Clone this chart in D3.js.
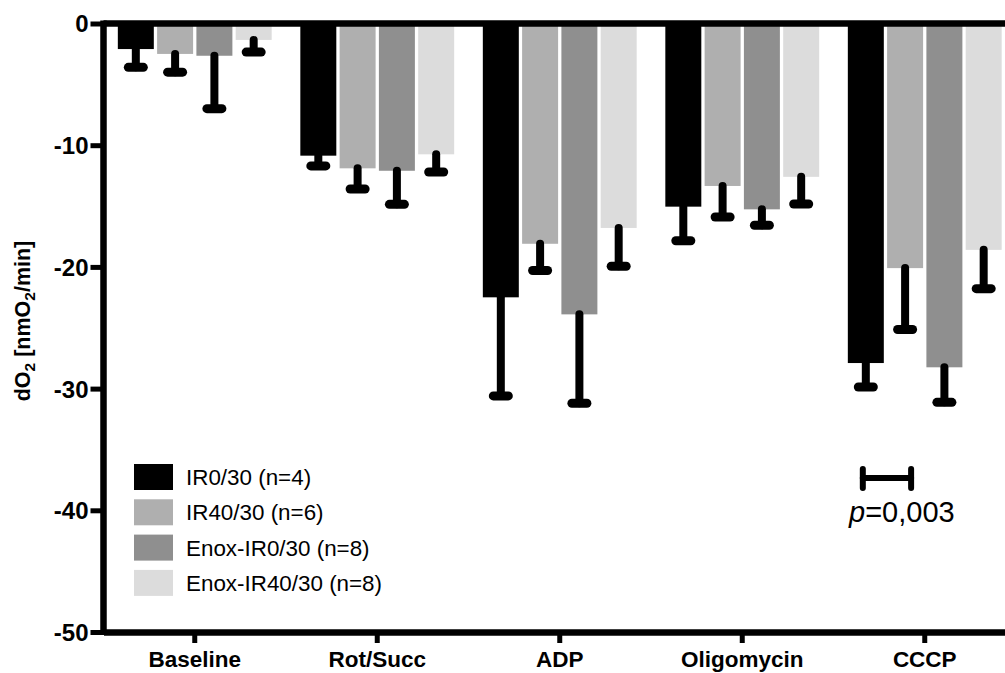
<!DOCTYPE html>
<html>
<head>
<meta charset="utf-8">
<script src="https://cdn.jsdelivr.net/npm/d3@7"></script>
<style>
  html, body { margin: 0; padding: 0; background: #fff; }
  svg { display: block; }
  text { font-family: "Liberation Sans", Arial, Helvetica, sans-serif; }
</style>
</head>
<body>
<svg id="chart" width="1005" height="673"></svg>
<script>
// ---- data ----
const categories = ["Baseline", "Rot/Succ", "ADP", "Oligomycin", "CCCP"];
const seriesNames = ["IR0/30 (n=4)", "IR40/30 (n=6)", "Enox-IR0/30 (n=8)", "Enox-IR40/30 (n=8)"];
const meanIR0 = [-2.1, -10.86, -22.5, -15.05, -27.9];
const meanIR40 = [-2.5, -11.9, -18.1, -13.35, -20.1];
const meanEnoxIR0 = [-2.65, -12.1, -23.9, -15.27, -28.25];
const meanEnoxIR40 = [-1.35, -10.75, -16.8, -12.6, -18.6];
const errIR0 = [1.5, 0.84, 8.1, 2.8, 1.97];
const errIR40 = [1.5, 1.7, 2.2, 2.55, 5.04];
const errEnoxIR0 = [4.35, 2.76, 7.3, 1.31, 2.88];
const errEnoxIR40 = [1.0, 1.45, 3.15, 2.23, 3.19];
const yTicks = [0, -10, -20, -30, -40, -50];
const colors = ["#000000", "#afafaf", "#8f8f8f", "#dcdcdc"];

const means = [meanIR0, meanIR40, meanEnoxIR0, meanEnoxIR40];
const errs = [errIR0, errIR40, errEnoxIR0, errEnoxIR40];

const svg = d3.select("#chart");

const y = d3.scaleLinear().domain([0, -50]).range([23.5, 632]);
const x0 = d3.scaleBand().domain(categories).range([103.5, 1016]).paddingInner(0.157).paddingOuter(0.0785);
const x1 = d3.scaleBand().domain(d3.range(seriesNames.length)).range([0, x0.bandwidth()]).paddingInner(0.084).paddingOuter(0);

const rows = [];
categories.forEach((c, ci) => {
  seriesNames.forEach((s, si) => {
    rows.push({ c, si, v: means[si][ci], e: errs[si][ci] });
  });
});

// bars
svg.append("g").selectAll("rect").data(rows).join("rect")
  .attr("x", d => x0(d.c) + x1(d.si))
  .attr("width", x1.bandwidth())
  .attr("y", y(0))
  .attr("height", d => y(d.v) - y(0))
  .attr("fill", d => colors[d.si]);

// error bars
const eg = svg.append("g").attr("stroke", "#000").attr("stroke-linecap", "round");
eg.selectAll("line.stem").data(rows).join("line").attr("class", "stem")
  .attr("x1", d => x0(d.c) + x1(d.si) + x1.bandwidth() / 2)
  .attr("x2", d => x0(d.c) + x1(d.si) + x1.bandwidth() / 2)
  .attr("y1", d => y(d.v))
  .attr("y2", d => y(d.v - d.e))
  .attr("stroke-width", 8);
eg.selectAll("line.cap").data(rows).join("line").attr("class", "cap")
  .attr("x1", d => x0(d.c) + x1(d.si) + x1.bandwidth() / 2 - 7.5)
  .attr("x2", d => x0(d.c) + x1(d.si) + x1.bandwidth() / 2 + 7.5)
  .attr("y1", d => y(d.v - d.e))
  .attr("y2", d => y(d.v - d.e))
  .attr("stroke-width", 9);

// top zero line
svg.append("line")
  .attr("x1", x0.range()[0]).attr("x2", x0.range()[1])
  .attr("y1", y(0)).attr("y2", y(0))
  .attr("stroke", "#000").attr("stroke-width", 6.5);

// y axis
const yAxis = svg.append("g").attr("transform", "translate(103.5,0)")
  .call(d3.axisLeft(y).tickValues(yTicks).tickSize(13).tickSizeOuter(0).tickPadding(2)
    .tickFormat(d => d === 0 ? "0" : "-" + Math.abs(d)));
yAxis.select(".domain").remove();
yAxis.selectAll(".tick line").attr("stroke", "#000").attr("stroke-width", 5);
yAxis.selectAll(".tick text").attr("font-size", 24).attr("font-weight", "bold").attr("fill", "#000")
  .attr("font-family", "'Liberation Sans', Arial, sans-serif").attr("dy", "0.35em");
svg.append("line")
  .attr("x1", 103.5).attr("x2", 103.5)
  .attr("y1", y(0) - 3).attr("y2", y(-50) + 3)
  .attr("stroke", "#000").attr("stroke-width", 6.5);

// x axis (bottom)
const xAxis = svg.append("g").attr("transform", `translate(0,${y(-50)})`)
  .call(d3.axisBottom(x0).tickSize(11).tickSizeOuter(0).tickPadding(8));
xAxis.select(".domain").attr("stroke", "#000").attr("stroke-width", 6.5);
xAxis.selectAll(".tick line").attr("stroke", "#000").attr("stroke-width", 5);
xAxis.selectAll(".tick text").attr("font-size", 22.5).attr("font-weight", "bold").attr("fill", "#000")
  .attr("font-family", "'Liberation Sans', Arial, sans-serif");

// y axis title
const yt = svg.append("text")
  .attr("transform", "translate(30,321) rotate(-90)")
  .attr("text-anchor", "middle")
  .attr("font-size", 21.5).attr("font-weight", "bold").attr("fill", "#000");
yt.append("tspan").text("dO");
yt.append("tspan").text("2").attr("font-size", 15.5).attr("dy", 5);
yt.append("tspan").text(" [nmO").attr("dy", -5);
yt.append("tspan").text("2").attr("font-size", 15.5).attr("dy", 5);
yt.append("tspan").text("/min]").attr("dy", -5);

// legend
const lg = svg.append("g").attr("transform", "translate(134,464)");
const li = lg.selectAll("g").data(seriesNames).join("g")
  .attr("transform", (d, i) => `translate(0,${i * 35.3})`);
li.append("rect").attr("width", 39).attr("height", 26).attr("fill", (d, i) => colors[i]);
li.append("text").attr("x", 52).attr("y", 13).attr("dy", "0.36em")
  .attr("font-size", 22.4).attr("fill", "#000").text(d => d);

// significance bracket (IR0/30 vs IR40/30 at CCCP)
const bx1 = x0("CCCP") + x1(0) + x1.bandwidth() / 2 - 3;
const bx2 = x0("CCCP") + x1(1) + x1.bandwidth() / 2 + 6;
const sig = svg.append("g").attr("stroke", "#000").attr("stroke-width", 6).attr("stroke-linecap", "round");
sig.append("line").attr("x1", bx1).attr("x2", bx2).attr("y1", 478).attr("y2", 478);
sig.append("line").attr("x1", bx1).attr("x2", bx1).attr("y1", 469).attr("y2", 488);
sig.append("line").attr("x1", bx2).attr("x2", bx2).attr("y1", 469).attr("y2", 488);
const pt = svg.append("text").attr("x", 849).attr("y", 522)
  .attr("text-anchor", "start").attr("font-size", 29).attr("fill", "#000");
pt.append("tspan").text("p").attr("font-style", "italic");
pt.append("tspan").text("=0,003");
</script>
</body>
</html>
